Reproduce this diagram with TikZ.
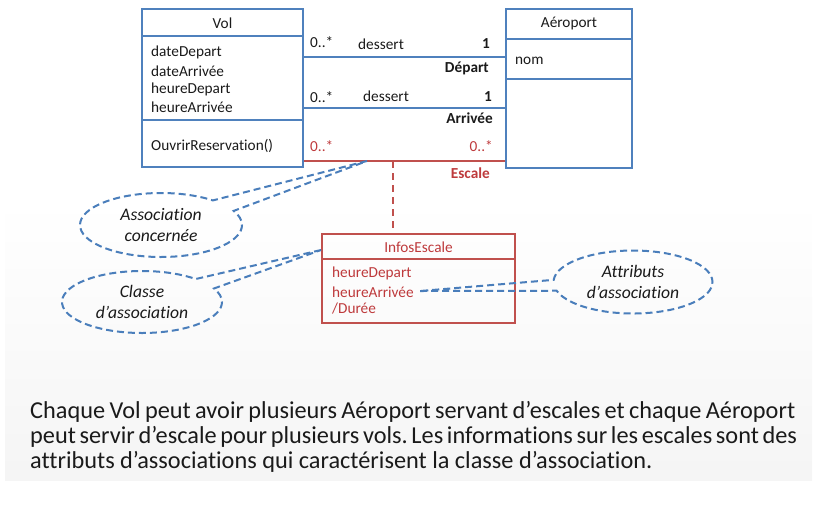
\documentclass[tikz,border=0pt]{standalone}
\usepackage{fontspec}
\setmainfont{Carlito}[Ligatures=NoCommon]
\frenchspacing
\usetikzlibrary{shapes.callouts,shapes.geometric}
\definecolor{umlblue}{HTML}{4F81BD}
\definecolor{noteblue}{HTML}{4A7EBB}
\definecolor{umlred}{HTML}{C0504D}
\definecolor{umlredtxt}{HTML}{BE3A3C}
\definecolor{txt}{HTML}{1A1A1A}
\tikzset{
  bluebox/.style={draw=umlblue, line width=2pt, inner sep=0pt},
  redbox/.style={draw=umlred, line width=2pt, inner sep=0pt},
  blueline/.style={draw=umlblue, line width=2pt},
  redline/.style={draw=umlred, line width=2pt},
  lbl/.style={font=\fontsize{15.3}{18}\selectfont, text=txt, inner sep=0pt},
  blbl/.style={lbl, font=\fontsize{15.3}{18}\selectfont\bfseries},
  rlbl/.style={lbl, text=umlredtxt},
  calloutnote/.style={ellipse callout, draw=noteblue, line width=2pt,
    dash pattern=on 7pt off 4pt, font=\fontsize{17.6}{21}\selectfont\itshape,
    align=center, inner sep=0pt, text=txt},
  para/.style={anchor=base west, inner sep=0pt, text=txt, font=\fontsize{24.3}{25}\selectfont}
}
\begin{document}
\begin{tikzpicture}[x=1pt,y=-1pt]
\useasboundingbox (0,0) rectangle (834,509);
\shade[top color=white, bottom color=black!4] (5,200) rectangle (812,480);

% ---- Vol
\node[bluebox, minimum width=161pt, minimum height=158pt] (vol) at (222.5,88) {};
\draw[blueline] (vol.west |- 0,36) -- (vol.east |- 0,36);
\draw[blueline] (vol.west |- 0,120) -- (vol.east |- 0,120);
\node[lbl] (volt) at (222.5,23) {Vol};
\node[lbl, anchor=west] (va1) at (151,52) {dateDepart};
\node[lbl, anchor=west] (va2) at (151,71) {dateArrivée};
\node[lbl, anchor=west] (va3) at (151,89) {heureDepart};
\node[lbl, anchor=west] (va4) at (151,107) {heureArrivée};
\node[lbl, anchor=west] (vm1) at (151,146) {OuvrirReservation()};

% ---- Aeroport
\node[bluebox, minimum width=126pt, minimum height=159pt] (aero) at (569,88.5) {};
\draw[blueline] (aero.west |- 0,39) -- (aero.east |- 0,39);
\draw[blueline] (aero.west |- 0,79) -- (aero.east |- 0,79);
\node[lbl] (aerot) at (569,24) {Aéroport};
\node[lbl, anchor=west] (aa1) at (515,61) {nom};

% ---- associations
\draw[blueline] (vol.east |- 0,57) -- (aero.west |- 0,57);
\node[lbl, anchor=west] (m1a) at (310,42) {0..*};
\node[lbl, anchor=west] (n1) at (358,44) {dessert};
\node[blbl] (m1b) at (486,44) {1};
\node[blbl, anchor=east] (r1) at (489,68) {Départ};

\draw[blueline] (vol.east |- 0,108) -- (aero.west |- 0,108);
\node[lbl, anchor=west] (m2a) at (310,97) {0..*};
\node[lbl, anchor=west] (n2) at (363,96) {dessert};
\node[blbl] (m2b) at (488,97) {1};
\node[blbl, anchor=east] (r2) at (493,118) {Arrivée};

\draw[redline] (vol.east |- 0,161) -- (aero.west |- 0,161);
\node[rlbl, anchor=west] (m3a) at (310,146) {0..*};
\node[rlbl, anchor=east] (m3b) at (493,146) {0..*};
\node[rlbl, font=\fontsize{15.3}{18}\selectfont\bfseries, anchor=east] (r3) at (490,173) {Escale};
\coordinate (esctip) at (367,161);
\coordinate (escmid) at (393,161);

% ---- InfosEscale
\node[redbox, minimum width=193pt, minimum height=89pt] (infos) at (418.5,278.5) {};
\draw[redline] (infos.west |- 0,259) -- (infos.east |- 0,259);
\node[rlbl] (infost) at (418.5,247) {InfosEscale};
\node[rlbl, anchor=west] (ia1) at (332,273) {heureDepart};
\node[rlbl, anchor=west] (ia2) at (332,292) {heureArrivée};
\node[rlbl, anchor=west] (ia3) at (332,309) {/Durée};
\draw[redline, dash pattern=on 7pt off 5pt] (escmid) -- (escmid |- infos.north);

% ---- callouts
\coordinate (c2tip) at (infos.west |- 0,250);
\coordinate (c3tip) at (420,291);
\node[calloutnote, minimum width=162pt, minimum height=64pt,
  callout absolute pointer={(esctip)}, callout pointer arc=24] (c1) at (161,225)
  {Association\\concernée};
\node[calloutnote, minimum width=160pt, minimum height=62pt,
  callout absolute pointer={(c2tip)}, callout pointer arc=22] (c2) at (142,302)
  {Classe\\d’association};
\node[calloutnote, minimum width=159pt, minimum height=63pt,
  callout absolute pointer={(c3tip)}, callout pointer arc=20] (c3) at (633,282)
  {Attributs\\d’association};

% ---- paragraph
\node[para] (p1) at (30,418) {\makebox[765pt][s]{Chaque Vol peut avoir plusieurs Aéroport servant d’escales et chaque Aéroport}};
\node[para] (p2) at (30,443) {\makebox[765pt][s]{peut servir d’escale pour plusieurs vols. Les informations sur les escales sont des}};
\node[para] (p3) at (30,468) {attributs d’associations qui caractérisent la classe d’association.};
\end{tikzpicture}
\end{document}
